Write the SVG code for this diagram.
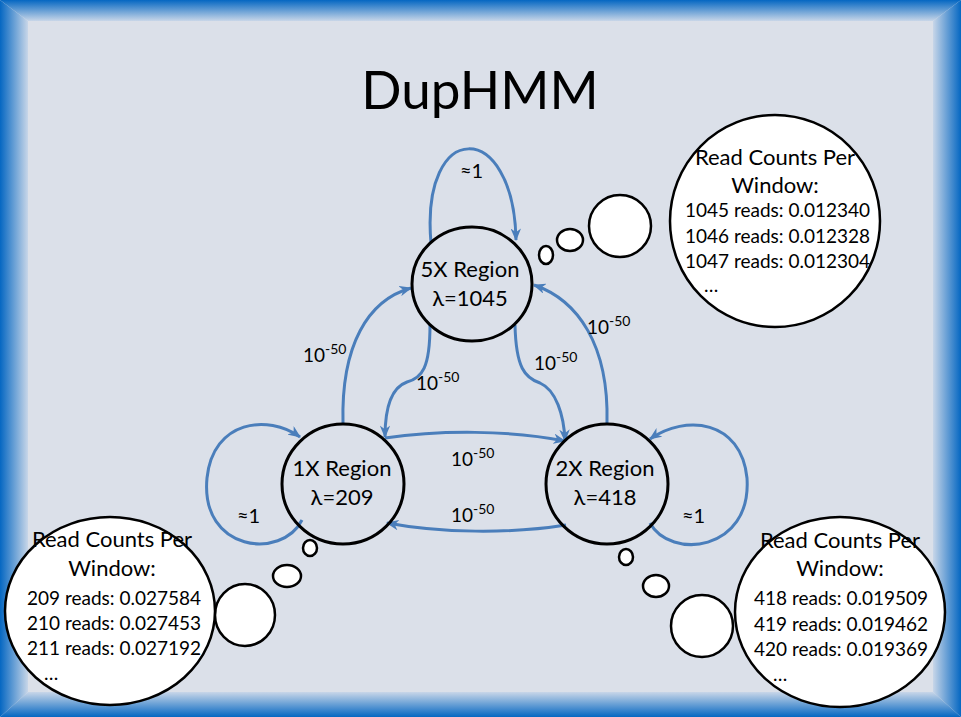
<svg xmlns="http://www.w3.org/2000/svg" width="961" height="717" viewBox="0 0 961 717">
<defs>
<linearGradient id="gL" x1="0" y1="0" x2="1" y2="0"><stop offset="0" stop-color="#0567c2"/><stop offset="1" stop-color="#c8d6e8"/></linearGradient>
<linearGradient id="gR" x1="1" y1="0" x2="0" y2="0"><stop offset="0" stop-color="#0567c2"/><stop offset="1" stop-color="#c8d6e8"/></linearGradient>
<linearGradient id="gT" x1="0" y1="0" x2="0" y2="1"><stop offset="0" stop-color="#0567c2"/><stop offset="1" stop-color="#c8d6e8"/></linearGradient>
<linearGradient id="gB" x1="0" y1="1" x2="0" y2="0"><stop offset="0" stop-color="#0567c2"/><stop offset="1" stop-color="#c8d6e8"/></linearGradient>
<marker id="ah" viewBox="0 0 12 10" refX="11" refY="5" markerWidth="4.2" markerHeight="3.5" orient="auto" markerUnits="strokeWidth">
<path d="M0,0 L12,5 L0,10 L3.5,5 z" fill="#4a7ebb"/>
</marker>
</defs>
<style>
.node{fill:none;stroke:#000;stroke-width:3}
.bub{fill:#fff;stroke:#000;stroke-width:2.5}
.edge{fill:none;stroke:#4a7ebb;stroke-width:3;marker-end:url(#ah)}
.t{font-family:Lato,"Open Sans","Liberation Sans",sans-serif;fill:#000}
.nl{font-size:22px;text-anchor:middle}
.el{font-size:19px}
.ap{font-size:20px}
.sup{font-size:14px}
.bh{font-size:22px;text-anchor:middle}
.bl{font-size:19px}
</style>
<rect x="0" y="0" width="961" height="717" fill="#dbe0e9"/>
<polygon points="0,0 28,21 28,692 0,717" fill="url(#gL)"/>
<polygon points="961,0 933,21 933,692 961,717" fill="url(#gR)"/>
<polygon points="0,0 961,0 933,21 28,21" fill="url(#gT)"/>
<polygon points="0,717 961,717 933,692 28,692" fill="url(#gB)"/>
<text class="t" x="480" y="109" font-size="53" text-anchor="middle">DupHMM</text>

<g id="connectors">
<path class="edge" d="M431,243 C420,118 514,118 516,240"/>
<path class="edge" d="M302,520 C282,560 200,552 207,478 C213,420 268,414 300,437"/>
<path class="edge" d="M650,523 C670,560 752,552 747,478 C741,420 686,414 650,439"/>
<path class="edge" d="M343,423 C341,345 368,300 411,288"/>
<path class="edge" d="M607,423 C609,345 578,300 534,285"/>
<path class="edge" d="M430,325 C430,368 422,378 407,382 C390,388 385,410 385,437"/>
<path class="edge" d="M515,325 C516,368 525,378 540,383 C556,390 564,415 565,441"/>
<path class="edge" d="M385,438 C440,430 510,430 565,441"/>
<path class="edge" d="M566,525 C510,534 440,533 387,523"/>
</g>

<g id="n5x">
<ellipse class="node" cx="472" cy="284" rx="60" ry="57"/>
<text class="t nl" x="470" y="277">5X Region</text>
<text class="t nl" x="470" y="306">λ=1045</text>
</g>
<g id="n1x">
<ellipse class="node" cx="343" cy="484" rx="61" ry="60"/>
<text class="t nl" x="342" y="476">1X Region</text>
<text class="t nl" x="342" y="505">λ=209</text>
</g>
<g id="n2x">
<ellipse class="node" cx="607" cy="484" rx="61" ry="60"/>
<text class="t nl" x="605" y="476">2X Region</text>
<text class="t nl" x="605" y="505">λ=418</text>
</g>

<g id="labels">
<text class="t ap" x="460" y="178">≈1</text>
<text class="t ap" x="237" y="523">≈1</text>
<text class="t ap" x="682" y="523">≈1</text>
<text class="t el" x="303" y="362">10<tspan class="sup" dy="-8">-50</tspan></text>
<text class="t el" x="416" y="390">10<tspan class="sup" dy="-8">-50</tspan></text>
<text class="t el" x="534" y="370">10<tspan class="sup" dy="-8">-50</tspan></text>
<text class="t el" x="587" y="334">10<tspan class="sup" dy="-8">-50</tspan></text>
<text class="t el" x="451" y="466">10<tspan class="sup" dy="-8">-50</tspan></text>
<text class="t el" x="451" y="522">10<tspan class="sup" dy="-8">-50</tspan></text>
</g>

<g id="bubble5x">
<ellipse class="bub" cx="546" cy="255" rx="7" ry="9"/>
<ellipse class="bub" cx="570" cy="240" rx="13" ry="11"/>
<ellipse class="bub" cx="620" cy="226" rx="31" ry="31"/>
<ellipse class="bub" cx="775" cy="221" rx="105" ry="106"/>
<text class="t bh" x="775" y="165">Read Counts Per</text>
<text class="t bh" x="775" y="193">Window:</text>
<text class="t bl" x="685" y="217">1045 reads: 0.012340</text>
<text class="t bl" x="685" y="243">1046 reads: 0.012328</text>
<text class="t bl" x="685" y="268">1047 reads: 0.012304</text>
<text class="t bl" x="704" y="292">…</text>
</g>
<g id="bubble1x">
<ellipse class="bub" cx="310" cy="548" rx="7" ry="8"/>
<ellipse class="bub" cx="287" cy="576" rx="14" ry="11"/>
<ellipse class="bub" cx="245" cy="615" rx="30" ry="31"/>
<ellipse class="bub" cx="110" cy="611" rx="105" ry="94"/>
<text class="t bh" x="112" y="547">Read Counts Per</text>
<text class="t bh" x="112" y="576">Window:</text>
<text class="t bl" x="27" y="605">209 reads: 0.027584</text>
<text class="t bl" x="27" y="630">210 reads: 0.027453</text>
<text class="t bl" x="27" y="655">211 reads: 0.027192</text>
<text class="t bl" x="44" y="680">…</text>
</g>
<g id="bubble2x">
<ellipse class="bub" cx="626" cy="557" rx="7" ry="8"/>
<ellipse class="bub" cx="656" cy="586" rx="13" ry="11"/>
<ellipse class="bub" cx="702" cy="626" rx="31" ry="31"/>
<ellipse class="bub" cx="840" cy="612" rx="105" ry="95"/>
<text class="t bh" x="840" y="548">Read Counts Per</text>
<text class="t bh" x="840" y="576">Window:</text>
<text class="t bl" x="754" y="605">418 reads: 0.019509</text>
<text class="t bl" x="754" y="631">419 reads: 0.019462</text>
<text class="t bl" x="754" y="656">420 reads: 0.019369</text>
<text class="t bl" x="773" y="681">…</text>
</g>
</svg>
